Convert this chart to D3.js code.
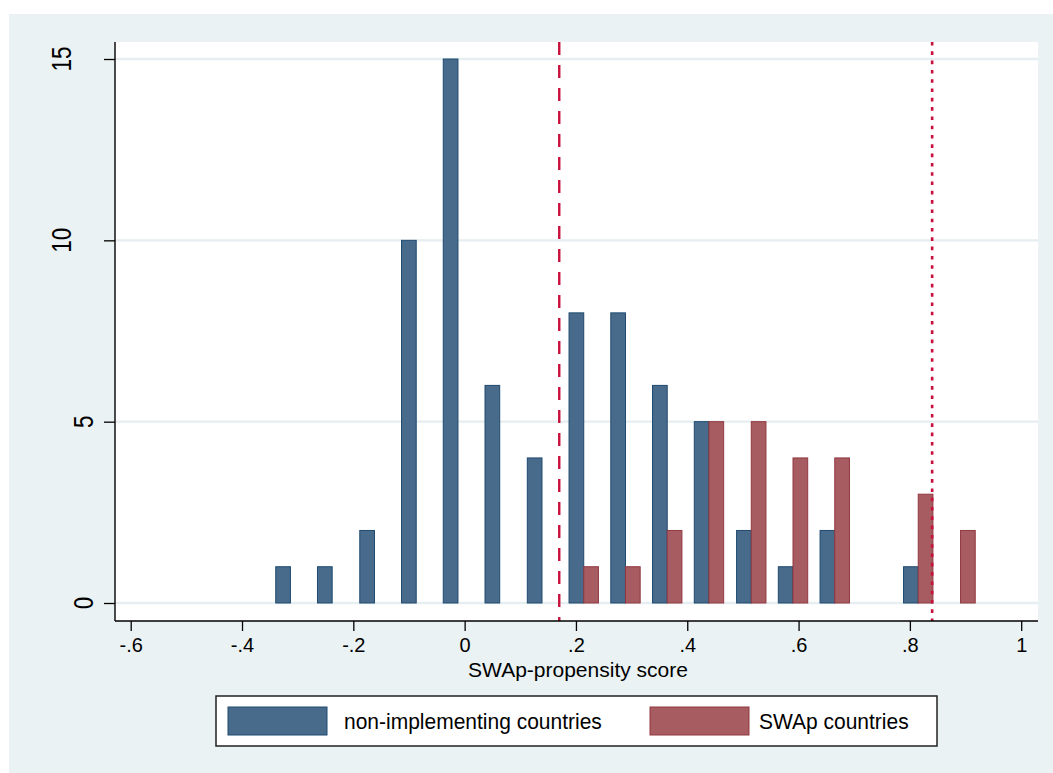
<!DOCTYPE html>
<html>
<head>
<meta charset="utf-8">
<script src="https://cdn.jsdelivr.net/npm/d3@7"></script>
<style>
  html, body { margin: 0; padding: 0; background: #ffffff; }
  svg { display: block; }
  text { font-family: "Liberation Sans", Arial, Helvetica, sans-serif; fill: #000; }
</style>
</head>
<body>
<svg id="chart" width="1053" height="773"></svg>
<script>
// ---- data ----
const binMids = [-0.313, -0.238, -0.162, -0.087, -0.012, 0.063, 0.139, 0.214, 0.289,
                 0.364, 0.439, 0.515, 0.590, 0.665, 0.740, 0.815, 0.891];
const nonImplementing = [1, 1, 2, 10, 15, 6, 4, 8, 8, 6, 5, 2, 1, 2, 0, 1, 0];
const swapCountries   = [0, 0, 0, 0, 0, 0, 0, 1, 1, 2, 5, 5, 4, 4, 0, 3, 2];
const xTicks = [-0.6, -0.4, -0.2, 0, 0.2, 0.4, 0.6, 0.8, 1];
const yTicks = [0, 5, 10, 15];
const refLines = [{x: 0.17, type: "dash"}, {x: 0.84, type: "dot"}];
const seriesNames = ["non-implementing countries", "SWAp countries"];
const xTitle = "SWAp-propensity score";

// ---- layout ----
const svg = d3.select("#chart");
const plot = {left: 115, right: 1038, top: 42, bottom: 621};
const halfBar = 0.0264; // bar width in data units

const x = d3.scaleLinear().domain([-0.6, 1]).range([130.7, 1021.2]);
const y = d3.scaleLinear().domain([0, 15]).range([603, 59]);

const colors = {
  blueFill: "#486b8b", blueLine: "#1f4a70",
  redFill: "#a65c61", redLine: "#923840",
  ref: "#c8103c", grid: "#e6eef1", bg: "#eaf2f3"
};

// outer background
svg.append("rect").attr("x", 9).attr("y", 14).attr("width", 1044).attr("height", 759)
  .attr("fill", colors.bg);
// plot region
svg.append("rect").attr("x", plot.left).attr("y", plot.top)
  .attr("width", plot.right - plot.left).attr("height", plot.bottom - plot.top)
  .attr("fill", "#ffffff");

// gridlines
svg.append("g").selectAll("line").data(yTicks).join("line")
  .attr("x1", plot.left).attr("x2", plot.right)
  .attr("y1", d => y(d)).attr("y2", d => y(d))
  .attr("stroke", colors.grid).attr("stroke-width", 2.4);

// bars
const rows = binMids.map((m, i) => ({m, a: nonImplementing[i], b: swapCountries[i]}));
svg.append("g").selectAll("rect").data(rows.filter(d => d.a > 0)).join("rect")
  .attr("x", d => x(d.m - halfBar)).attr("width", d => x(d.m) - x(d.m - halfBar))
  .attr("y", d => y(d.a)).attr("height", d => y(0) - y(d.a))
  .attr("fill", colors.blueFill).attr("stroke", colors.blueLine).attr("stroke-width", 1);
svg.append("g").selectAll("rect").data(rows.filter(d => d.b > 0)).join("rect")
  .attr("x", d => x(d.m)).attr("width", d => x(d.m + halfBar) - x(d.m))
  .attr("y", d => y(d.b)).attr("height", d => y(0) - y(d.b))
  .attr("fill", colors.redFill).attr("stroke", colors.redLine).attr("stroke-width", 1);

// reference lines
svg.append("g").selectAll("line").data(refLines).join("line")
  .attr("x1", d => x(d.x)).attr("x2", d => x(d.x))
  .attr("y1", plot.top).attr("y2", plot.bottom)
  .attr("stroke", colors.ref)
  .attr("stroke-width", d => d.type === "dash" ? 2.4 : 2.6)
  .attr("stroke-dasharray", d => d.type === "dash" ? "13,10" : "3.6,5.7");

// x axis
const fmt = v => {
  if (v === 0) return "0";
  if (v === 1) return "1";
  return d3.format(".1f")(v).replace("\u2212", "-").replace("0.", ".");
};
const xAxis = d3.axisBottom(x).tickValues(xTicks).tickFormat(fmt).tickSize(10).tickPadding(7);
const gx = svg.append("g").attr("transform", `translate(0,${plot.bottom})`).call(xAxis);
gx.select(".domain").remove();
gx.selectAll(".tick line").attr("stroke", "#000").attr("stroke-width", 1.3);
gx.selectAll(".tick text").attr("font-size", 20).attr("fill", "#000")
  .attr("font-family", "Liberation Sans, Arial, sans-serif");
svg.append("line").attr("x1", plot.left).attr("x2", plot.right)
  .attr("y1", plot.bottom).attr("y2", plot.bottom).attr("stroke", "#000").attr("stroke-width", 1.4);

// y axis
const yAxis = d3.axisLeft(y).tickValues(yTicks).tickFormat("").tickSize(11);
const gy = svg.append("g").attr("transform", `translate(${plot.left},0)`).call(yAxis);
gy.select(".domain").remove();
gy.selectAll(".tick line").attr("stroke", "#000").attr("stroke-width", 1.3);
svg.append("line").attr("x1", plot.left).attr("x2", plot.left)
  .attr("y1", plot.top).attr("y2", plot.bottom).attr("stroke", "#000").attr("stroke-width", 1.4);
svg.append("g").selectAll("text").data(yTicks).join("text")
  .attr("transform", d => {
    const len = String(d).length;
    const bx = 93 - (len - 1) * 22;
    return `translate(${bx},${y(d)}) rotate(-90) scale(1,1.25)`;
  })
  .attr("text-anchor", "middle")
  .attr("font-size", 22.5)
  .text(d => d);

// x title
svg.append("text").attr("x", 578).attr("y", 677).attr("text-anchor", "middle")
  .attr("font-size", 21).text(xTitle);

// legend
const lg = svg.append("g");
lg.append("rect").attr("x", 216).attr("y", 696).attr("width", 721).attr("height", 50)
  .attr("fill", "#fff").attr("stroke", "#222").attr("stroke-width", 1.5);
const legItems = [
  {name: seriesNames[0], fill: colors.blueFill, line: colors.blueLine, sx: 228, tx: 344},
  {name: seriesNames[1], fill: colors.redFill, line: colors.redLine, sx: 650, tx: 759}
];
legItems.forEach(it => {
  lg.append("rect").attr("x", it.sx).attr("y", 707).attr("width", 99).attr("height", 28)
    .attr("fill", it.fill).attr("stroke", it.line).attr("stroke-width", 1);
  lg.append("text").attr("x", it.tx).attr("y", 729).attr("font-size", 21)
    .attr("transform", `translate(0,729) scale(1,1.08) translate(0,-729)`)
    .text(it.name);
});
</script>
</body>
</html>
